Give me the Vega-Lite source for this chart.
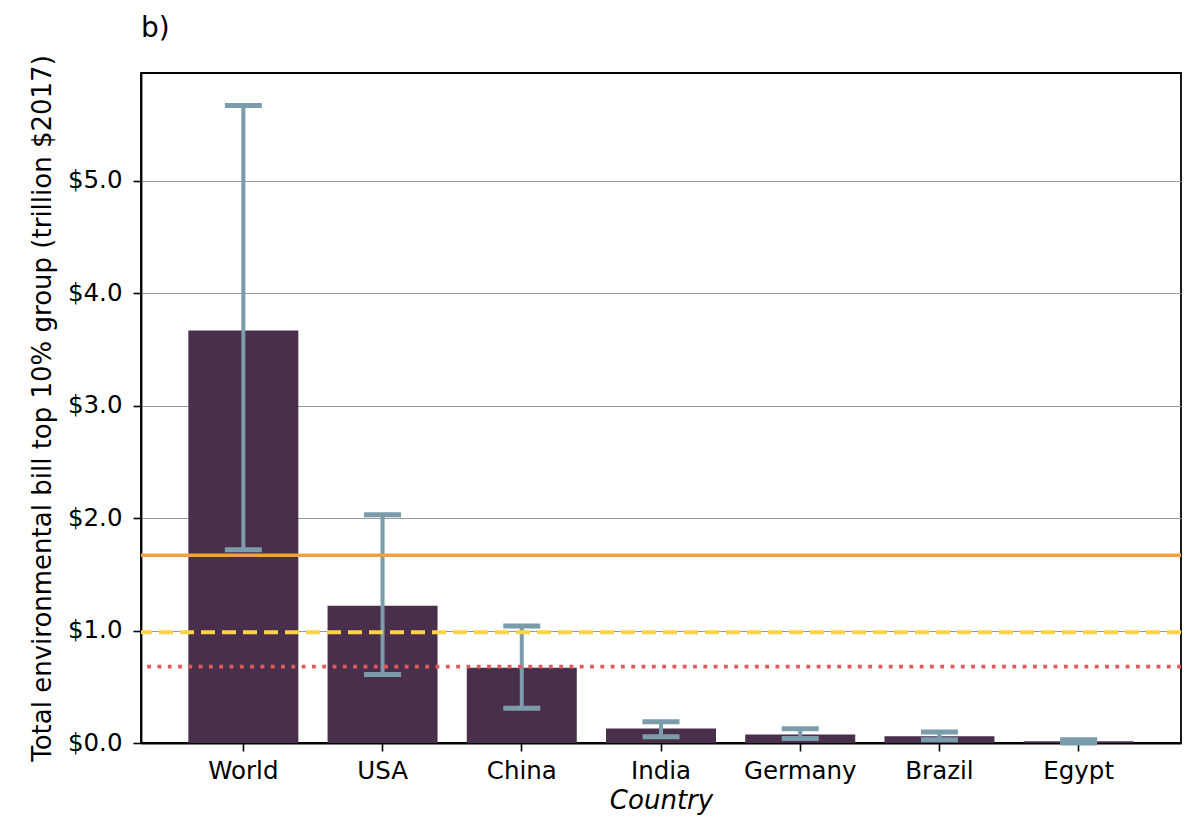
{
  "$schema": "https://vega.github.io/schema/vega-lite/v6.json",
  "autosize": "none",
  "width": 1040,
  "height": 670,
  "padding": {"left": 141, "top": 73, "right": 19, "bottom": 83},
  "background": "white",
  "config": {
    "font": "DejaVu Sans",
    "view": {"stroke": "black", "strokeWidth": 1.8},
    "axis": {"labelFont": "DejaVu Sans", "titleFont": "DejaVu Sans", "labelColor": "black", "titleColor": "black", "domainColor": "black", "tickColor": "black", "domainWidth": 1.8, "tickWidth": 1.6, "tickSize": 8, "labelFontSize": 24.5, "titleFontSize": 26, "titleFontWeight": "normal"}
  },
  "title": {"text": "b)", "anchor": "start", "frame": "group", "fontSize": 28, "fontWeight": "normal", "font": "DejaVu Sans", "color": "black", "offset": 12, "dx": 0},
  "data": {"values": [
    {"Country": "World", "value": 3.67, "lo": 1.72, "hi": 5.67},
    {"Country": "USA", "value": 1.22, "lo": 0.61, "hi": 2.03},
    {"Country": "China", "value": 0.67, "lo": 0.31, "hi": 1.04},
    {"Country": "India", "value": 0.13, "lo": 0.055, "hi": 0.19},
    {"Country": "Germany", "value": 0.075, "lo": 0.04, "hi": 0.127},
    {"Country": "Brazil", "value": 0.06, "lo": 0.03, "hi": 0.098},
    {"Country": "Egypt", "value": 0.015, "lo": 0.0, "hi": 0.03}
  ]},
  "encoding": {
    "x": {"field": "Country", "type": "nominal", "sort": null,
      "scale": {"paddingInner": 0.21, "paddingOuter": 0.34},
      "axis": {"title": "Country", "titleFontStyle": "italic", "labelAngle": 0, "labelPadding": 8, "titlePadding": 5, "grid": false}}
  },
  "layer": [
    {
      "mark": {"type": "bar", "color": "#4a2f4c"},
      "encoding": {
        "y": {"field": "value", "type": "quantitative",
          "scale": {"domain": [0, 5.96], "nice": false},
          "axis": {"title": "Total environmental bill top 10% group (trillion $2017)", "values": [0, 1, 2, 3, 4, 5], "format": "$.1f", "grid": true, "gridColor": "#999999", "gridWidth": 1.2, "labelPadding": 11, "titlePadding": 12}}
      }
    },
    {
      "mark": {"type": "rule", "color": "#7b9cab", "strokeWidth": 4},
      "encoding": {"y": {"field": "lo", "type": "quantitative"}, "y2": {"field": "hi"}}
    },
    {
      "mark": {"type": "tick", "color": "#7b9cab", "opacity": 1, "size": 37, "thickness": 5},
      "encoding": {"y": {"field": "lo", "type": "quantitative"}}
    },
    {
      "mark": {"type": "tick", "color": "#7b9cab", "opacity": 1, "size": 37, "thickness": 5},
      "encoding": {"y": {"field": "hi", "type": "quantitative"}}
    },
    {
      "data": {"values": [{"ref": "upper", "level": 1.67}]},
      "mark": {"type": "rule", "color": "#f0a040", "strokeWidth": 3.5},
      "encoding": {"y": {"field": "level", "type": "quantitative"}, "x": null}
    },
    {
      "data": {"values": [{"ref": "middle", "level": 0.985}]},
      "mark": {"type": "rule", "color": "#fdd447", "strokeWidth": 3.8, "strokeDash": [14, 7]},
      "encoding": {"y": {"field": "level", "type": "quantitative"}, "x": null}
    },
    {
      "data": {"values": [{"ref": "lower", "level": 0.68}]},
      "mark": {"type": "rule", "color": "#e05a5a", "strokeWidth": 3.8, "strokeDash": [3.8, 6.5]},
      "encoding": {"y": {"field": "level", "type": "quantitative"}, "x": null}
    }
  ]
}
